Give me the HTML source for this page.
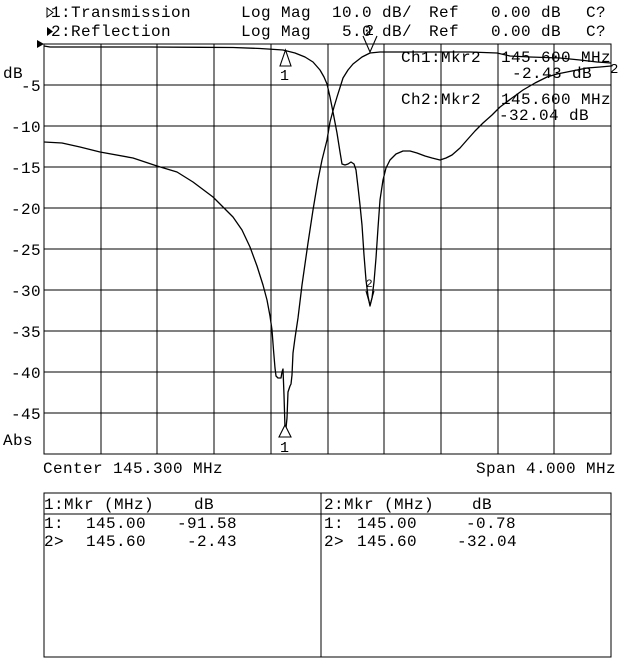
<!DOCTYPE html>
<html><head><meta charset="utf-8"><style>
html,body{margin:0;padding:0;background:#fff;}
svg{display:block;}
text{font-family:"Liberation Mono","DejaVu Sans Mono",monospace;font-size:16px;letter-spacing:0.4px;fill:#000;}
</style></head><body>
<svg width="640" height="659" viewBox="0 0 640 659" xmlns="http://www.w3.org/2000/svg">
<rect x="0" y="0" width="640" height="659" fill="#fff"/>
<!-- header -->
<polygon points="47,8 53,12.5 47,17" fill="none" stroke="#000" stroke-width="1"/>
<polygon points="47,27 53,31.5 47,36" fill="#000"/>
<text x="51" y="17">1:Transmission</text>
<text x="241" y="17">Log Mag</text>
<text x="332" y="17">10.0 dB/</text>
<text x="429" y="17">Ref</text>
<text x="491" y="17">0.00 dB</text>
<text x="586" y="17">C?</text>
<text x="51" y="36">2:Reflection</text>
<text x="241" y="36">Log Mag</text>
<text x="342" y="36">5.0 dB/</text>
<text x="429" y="36">Ref</text>
<text x="491" y="36">0.00 dB</text>
<text x="586" y="36">C?</text>
<!-- grid -->
<g stroke="#000" stroke-width="1.2" fill="none" shape-rendering="crispEdges">
<rect x="44" y="44" width="567" height="410"/>
<line x1="101" y1="44" x2="101" y2="454"/>
<line x1="157" y1="44" x2="157" y2="454"/>
<line x1="214" y1="44" x2="214" y2="454"/>
<line x1="271" y1="44" x2="271" y2="454"/>
<line x1="328" y1="44" x2="328" y2="454"/>
<line x1="384" y1="44" x2="384" y2="454"/>
<line x1="441" y1="44" x2="441" y2="454"/>
<line x1="498" y1="44" x2="498" y2="454"/>
<line x1="554" y1="44" x2="554" y2="454"/>
<line x1="44" y1="85" x2="611" y2="85"/>
<line x1="44" y1="126" x2="611" y2="126"/>
<line x1="44" y1="167" x2="611" y2="167"/>
<line x1="44" y1="208" x2="611" y2="208"/>
<line x1="44" y1="249" x2="611" y2="249"/>
<line x1="44" y1="290" x2="611" y2="290"/>
<line x1="44" y1="331" x2="611" y2="331"/>
<line x1="44" y1="372" x2="611" y2="372"/>
<line x1="44" y1="413" x2="611" y2="413"/>
</g>
<polygon points="37,40 44,44 37,48" fill="#000"/>
<!-- y labels -->
<text x="3" y="78">dB</text>
<g text-anchor="end">
<text x="41" y="91">-5</text>
<text x="41" y="132">-10</text>
<text x="41" y="173">-15</text>
<text x="41" y="214">-20</text>
<text x="41" y="255">-25</text>
<text x="41" y="296">-30</text>
<text x="41" y="337">-35</text>
<text x="41" y="378">-40</text>
<text x="41" y="419">-45</text>
</g>
<text x="3" y="445">Abs</text>
<text x="43" y="473">Center 145.300 MHz</text>
<text x="476" y="473">Span 4.000 MHz</text>
<!-- marker readouts -->
<text x="401" y="62">Ch1:Mkr2</text>
<text x="501" y="62">145.600 MHz</text>
<text x="512" y="78">-2.43 dB</text>
<text x="401" y="104">Ch2:Mkr2</text>
<text x="501" y="104">145.600 MHz</text>
<text x="499" y="120">-32.04 dB</text>
<!-- traces -->
<g fill="none" stroke="#000" stroke-width="1.3" stroke-linejoin="round">
<polyline points="44,46 47,46.5 50,47 100,47 150,47 200,47.3 233,47.5 260,48.5 283,50 295,53 305,57 313,62 320,70 324,77 327,84 330,97 333,112 337,133 340,152 342,164 345,165 348,164 351,162 354,164 356,170 358,187 360,205 362,225 364,255 366,280 368,296 370,306 372,298 374,282 376,258 378,228 380,200 383,180 386,168 390,160 396,154 403,151 410,151 417,153 425,156 432,158 440,160 446,158 452,155 460,148 467,140 475,131 483,123 492,115 500,107 512,98 523,90 535,83 547,77 557,74 567,72 577,70 587,68 600,67 611,66"/>
<polyline points="44,142 62,143 80,147 100,152 133,158 157,166 177,172 193,182 213,197 233,217 242,230 250,247 257,266 263,285 267,300 270,316 272,330 273.5,350 275,368 276,376 278,378 281,378 282,372 283,369 284,395 285,428 286,428 287,418 288,392 290,386 291,384 292,375 293,353 295,338 298,318 302,285 308,243 313,210 318,180 322,160 327,140 330,122 334,107 337,97 343,78 348,70 353,64 362,57 370,53 380,52 430,52 470,52 497,53 510,56 530,57 560,58 580,60 597,62 611,63"/>
</g>
<!-- markers -->
<g fill="#fff" stroke="#000" stroke-width="1.1">
<polygon points="285.5,50 280,66 291,66"/>
<polygon points="285,425 279,437 291,437"/>
<polyline points="363,36 370,52 377,36" fill="none"/>
<polyline points="366,291 370,305 374,291" fill="none"/>
</g>
<text x="280" y="80" style="font-size:15px">1</text>
<text x="280" y="452" style="font-size:15px">1</text>
<text x="365" y="35" style="font-size:15px">2</text>
<text x="366" y="287" style="font-size:11px">2</text>
<text x="610" y="73" style="font-size:14px">2</text>
<!-- table -->
<g stroke="#000" stroke-width="1.2" fill="none" shape-rendering="crispEdges">
<rect x="44" y="493" width="567" height="164"/>
<line x1="321" y1="493" x2="321" y2="657"/>
<line x1="44" y1="514" x2="611" y2="514"/>
</g>
<text x="44" y="509">1:Mkr (MHz)</text>
<text x="194" y="509">dB</text>
<text x="44" y="528">1:</text>
<text x="86" y="528">145.00</text>
<text x="177" y="528">-91.58</text>
<text x="44" y="546">2&gt;</text>
<text x="86" y="546">145.60</text>
<text x="187" y="546">-2.43</text>
<text x="324" y="509">2:Mkr (MHz)</text>
<text x="472" y="509">dB</text>
<text x="324" y="528">1:</text>
<text x="357" y="528">145.00</text>
<text x="466" y="528">-0.78</text>
<text x="324" y="546">2&gt;</text>
<text x="357" y="546">145.60</text>
<text x="457" y="546">-32.04</text>
</svg>
</body></html>
